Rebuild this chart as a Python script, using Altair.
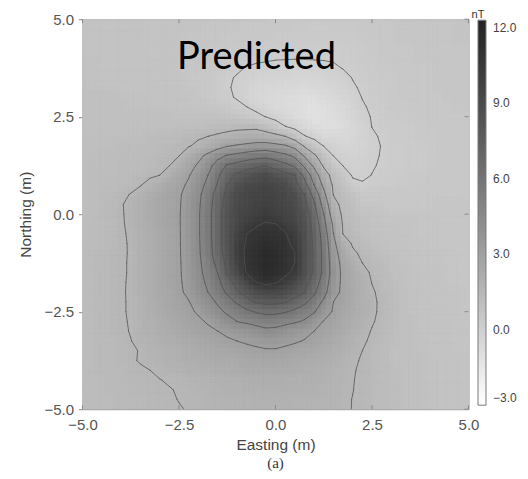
import altair as alt
import numpy as np
import pandas as pd

# ---------------- data ----------------
easting = [-5.0, -4.75, -4.5, -4.25, -4.0, -3.75, -3.5, -3.25, -3.0, -2.75, -2.5, -2.25, -2.0,
           -1.75, -1.5, -1.25, -1.0, -0.75, -0.5, -0.25, 0.0, 0.25, 0.5, 0.75, 1.0, 1.25, 1.5,
           1.75, 2.0, 2.25, 2.5, 2.75, 3.0, 3.25, 3.5, 3.75, 4.0, 4.25, 4.5, 4.75, 5.0]
northing = [5.0, 4.75, 4.5, 4.25, 4.0, 3.75, 3.5, 3.25, 3.0, 2.75, 2.5, 2.25, 2.0,
            1.75, 1.5, 1.25, 1.0, 0.75, 0.5, 0.25, 0.0, -0.25, -0.5, -0.75, -1.0, -1.25, -1.5,
            -1.75, -2.0, -2.25, -2.5, -2.75, -3.0, -3.25, -3.5, -3.75, -4.0, -4.25, -4.5, -4.75, -5.0]

# predicted anomaly (nT), one list per northing row, west -> east
row_p500 = [0.70,0.69,0.68,0.68,0.67,0.66,0.65,0.64,0.63,0.63,0.62,0.61,0.60,0.58,0.56,0.54,0.53,0.51,0.49,0.47,0.45,0.43,0.40,0.38,0.35,0.36,0.38,0.39,0.40,0.42,0.43,0.45,0.47,0.48,0.50,0.52,0.53,0.55,0.57,0.58,0.60]
row_p475 = [0.70,0.69,0.68,0.68,0.67,0.66,0.65,0.64,0.63,0.63,0.62,0.61,0.60,0.57,0.53,0.50,0.47,0.43,0.40,0.38,0.35,0.33,0.30,0.28,0.26,0.25,0.27,0.28,0.30,0.34,0.38,0.41,0.45,0.47,0.49,0.51,0.53,0.54,0.56,0.58,0.60]
row_p450 = [0.75,0.73,0.72,0.70,0.68,0.67,0.65,0.63,0.62,0.60,0.58,0.57,0.55,0.51,0.48,0.44,0.40,0.38,0.35,0.33,0.30,0.25,0.20,0.20,0.20,0.20,0.20,0.23,0.26,0.29,0.34,0.40,0.45,0.47,0.49,0.51,0.53,0.54,0.56,0.58,0.60]
row_p425 = [0.75,0.73,0.72,0.70,0.68,0.67,0.65,0.63,0.62,0.60,0.58,0.57,0.55,0.50,0.45,0.40,0.35,0.31,0.28,0.24,0.20,0.18,0.15,0.13,0.10,0.10,0.10,0.13,0.19,0.24,0.29,0.35,0.40,0.42,0.44,0.46,0.48,0.49,0.51,0.53,0.55]
row_p400 = [0.80,0.78,0.76,0.74,0.72,0.70,0.68,0.66,0.64,0.62,0.60,0.55,0.50,0.45,0.40,0.33,0.25,0.18,0.10,0.08,0.05,0.04,0.03,0.04,0.05,0.05,0.06,0.10,0.16,0.21,0.28,0.34,0.40,0.42,0.44,0.46,0.48,0.49,0.51,0.53,0.55]
row_p375 = [0.80,0.78,0.76,0.74,0.72,0.70,0.68,0.66,0.64,0.62,0.60,0.54,0.48,0.41,0.35,0.21,0.08,-0.03,-0.09,-0.14,-0.20,-0.23,-0.26,-0.30,-0.24,-0.16,-0.08,0.02,0.08,0.15,0.23,0.29,0.35,0.38,0.40,0.43,0.45,0.48,0.50,0.53,0.55]
row_p350 = [0.80,0.78,0.76,0.74,0.72,0.70,0.68,0.66,0.64,0.62,0.60,0.51,0.42,0.33,0.20,0.07,-0.04,-0.15,-0.26,-0.36,-0.38,-0.42,-0.45,-0.49,-0.44,-0.37,-0.30,-0.14,0.02,0.12,0.21,0.28,0.32,0.36,0.40,0.43,0.45,0.48,0.50,0.53,0.55]
row_p325 = [0.85,0.83,0.81,0.79,0.77,0.75,0.73,0.71,0.69,0.67,0.65,0.56,0.47,0.37,0.22,0.06,-0.10,-0.28,-0.45,-0.51,-0.56,-0.62,-0.68,-0.74,-0.66,-0.55,-0.44,-0.27,-0.06,0.07,0.17,0.26,0.30,0.35,0.40,0.43,0.45,0.48,0.50,0.53,0.55]
row_p300 = [0.90,0.88,0.86,0.84,0.82,0.80,0.78,0.76,0.74,0.72,0.70,0.61,0.52,0.42,0.26,0.11,-0.06,-0.29,-0.51,-0.65,-0.72,-0.80,-0.88,-0.95,-0.94,-0.78,-0.63,-0.45,-0.19,0.02,0.13,0.23,0.29,0.35,0.40,0.42,0.43,0.45,0.47,0.48,0.50]
row_p275 = [0.90,0.89,0.87,0.86,0.84,0.83,0.81,0.80,0.78,0.77,0.75,0.69,0.63,0.56,0.50,0.34,0.18,0.01,-0.22,-0.46,-0.70,-0.81,-0.93,-1.04,-1.15,-0.98,-0.81,-0.63,-0.36,-0.06,0.08,0.19,0.27,0.31,0.35,0.38,0.40,0.43,0.45,0.48,0.50]
row_p250 = [0.90,0.89,0.89,0.88,0.87,0.86,0.86,0.85,0.85,0.84,0.83,0.83,0.82,0.81,0.80,0.69,0.59,0.45,0.22,-0.02,-0.28,-0.54,-0.80,-0.97,-1.13,-1.09,-0.91,-0.74,-0.47,-0.18,0.04,0.14,0.25,0.28,0.31,0.34,0.37,0.39,0.41,0.43,0.45]
row_p225 = [0.95,0.94,0.93,0.93,0.92,0.91,0.90,0.92,0.93,0.95,0.97,0.98,1.00,1.06,1.13,1.19,1.25,1.25,1.25,0.97,0.49,0.02,-0.29,-0.60,-0.90,-0.94,-0.98,-0.85,-0.60,-0.31,0.01,0.10,0.20,0.23,0.26,0.30,0.33,0.35,0.39,0.42,0.45]
row_p200 = [1.00,1.00,1.00,1.00,1.00,1.00,1.00,1.05,1.10,1.15,1.20,1.30,1.39,1.49,1.62,1.76,1.90,2.00,2.10,1.95,1.80,1.48,0.78,0.06,-0.30,-0.63,-0.67,-0.63,-0.50,-0.25,-0.07,0.05,0.13,0.21,0.24,0.27,0.30,0.33,0.35,0.38,0.40]
row_p175 = [1.00,1.01,1.02,1.02,1.03,1.04,1.05,1.13,1.21,1.29,1.37,1.45,1.67,2.08,2.50,2.92,3.13,3.30,3.47,3.56,3.35,3.14,2.57,1.36,0.63,-0.03,-0.24,-0.46,-0.42,-0.32,-0.15,0.02,0.10,0.18,0.23,0.26,0.30,0.33,0.35,0.38,0.40]
row_p150 = [1.00,1.02,1.03,1.05,1.07,1.08,1.10,1.20,1.29,1.39,1.48,2.00,2.63,3.30,4.05,4.61,4.90,5.19,5.47,5.62,5.22,4.82,4.22,2.86,1.69,0.80,-0.01,-0.13,-0.25,-0.22,-0.09,0.03,0.11,0.18,0.23,0.26,0.30,0.33,0.35,0.38,0.40]
row_p125 = [1.00,1.03,1.05,1.08,1.10,1.13,1.15,1.26,1.37,1.48,1.96,2.54,3.17,4.00,5.10,6.14,6.50,6.86,7.21,7.40,6.90,6.40,5.70,4.20,2.70,1.34,0.56,-0.03,-0.14,-0.15,-0.04,0.05,0.12,0.19,0.23,0.26,0.30,0.33,0.35,0.38,0.40]
row_p100 = [1.00,1.03,1.05,1.08,1.10,1.20,1.30,1.40,1.50,1.97,2.44,2.91,3.67,4.50,5.75,7.00,7.76,8.21,8.65,8.91,8.44,7.97,7.50,5.63,3.75,2.06,1.09,0.46,-0.08,-0.10,0.01,0.10,0.18,0.26,0.29,0.32,0.35,0.36,0.38,0.39,0.40]
row_p075 = [1.00,1.05,1.10,1.15,1.20,1.33,1.46,1.73,2.06,2.40,2.73,3.16,3.94,4.85,6.11,7.50,8.51,9.09,9.26,9.36,9.18,8.96,7.97,6.53,4.50,2.66,1.33,0.82,0.20,0.06,0.12,0.21,0.25,0.28,0.30,0.33,0.35,0.38,0.40,0.43,0.45]
row_p050 = [1.00,1.07,1.14,1.23,1.37,1.53,1.80,2.07,2.34,2.60,2.87,3.41,4.19,5.25,6.60,7.93,9.00,9.21,9.43,9.56,9.36,9.16,8.75,7.50,5.50,3.38,1.47,1.09,0.71,0.40,0.38,0.37,0.35,0.36,0.38,0.39,0.40,0.41,0.42,0.44,0.45]
row_p025 = [1.00,1.08,1.17,1.29,1.45,1.67,1.91,2.16,2.41,2.65,2.90,3.48,4.28,5.40,6.78,8.09,9.05,9.32,9.59,9.75,9.51,9.28,9.04,7.88,6.21,3.95,1.85,1.22,0.89,0.57,0.49,0.47,0.45,0.45,0.45,0.45,0.45,0.46,0.48,0.49,0.50]
row_p000 = [1.00,1.08,1.17,1.29,1.44,1.65,1.91,2.16,2.41,2.67,2.92,3.54,4.34,5.50,6.90,8.25,9.13,9.45,9.78,10.10,9.78,9.47,9.15,8.25,6.68,4.50,2.25,1.31,1.03,0.76,0.66,0.59,0.55,0.54,0.53,0.51,0.50,0.50,0.50,0.50,0.50]
row_m025 = [1.05,1.13,1.22,1.32,1.44,1.61,1.88,2.14,2.40,2.66,2.92,3.54,4.34,5.50,6.90,8.28,9.25,9.82,10.39,10.58,10.52,10.01,9.39,8.48,6.95,4.97,2.75,1.40,1.15,0.90,0.73,0.66,0.60,0.59,0.58,0.56,0.55,0.54,0.53,0.51,0.50]
row_m050 = [1.05,1.13,1.22,1.32,1.42,1.58,1.84,2.11,2.38,2.65,2.91,3.54,4.34,5.50,6.90,8.30,9.49,10.50,10.73,10.95,10.82,10.59,9.86,8.70,7.16,5.33,3.00,1.47,1.25,1.02,0.80,0.73,0.66,0.60,0.58,0.57,0.55,0.54,0.53,0.51,0.50]
row_m075 = [1.05,1.13,1.22,1.31,1.42,1.55,1.83,2.10,2.37,2.64,2.91,3.53,4.31,5.45,6.84,8.28,9.67,10.64,10.98,11.33,11.12,10.78,10.21,8.76,7.24,5.53,3.30,2.06,1.39,1.17,0.94,0.81,0.74,0.66,0.62,0.59,0.55,0.54,0.53,0.51,0.50]
row_m100 = [1.10,1.18,1.27,1.36,1.43,1.54,1.82,2.09,2.36,2.63,2.90,3.50,4.28,5.40,6.75,8.19,9.79,10.74,11.13,11.52,11.29,10.89,10.50,8.82,7.30,5.63,3.50,2.40,1.65,1.34,1.14,0.94,0.83,0.74,0.65,0.63,0.60,0.58,0.55,0.53,0.50]
row_m125 = [1.10,1.18,1.27,1.35,1.43,1.55,1.82,2.09,2.36,2.63,2.89,3.45,4.20,5.18,6.44,7.94,9.53,10.74,11.18,11.61,11.36,10.93,10.50,8.77,7.30,5.64,3.71,2.62,2.06,1.50,1.30,1.10,0.90,0.81,0.72,0.64,0.62,0.59,0.56,0.53,0.50]
row_m150 = [1.10,1.18,1.27,1.35,1.43,1.55,1.82,2.09,2.35,2.62,2.88,3.40,4.13,4.99,6.00,7.66,9.00,10.58,11.00,11.42,11.19,10.81,10.20,8.72,7.30,5.66,3.83,2.71,2.23,1.75,1.40,1.19,0.98,0.85,0.76,0.67,0.62,0.59,0.56,0.53,0.50]
row_m175 = [1.10,1.18,1.27,1.35,1.44,1.56,1.82,2.08,2.34,2.60,2.86,3.33,4.01,4.75,5.64,6.80,8.06,9.25,10.50,10.83,10.63,10.00,9.17,8.06,6.75,5.31,3.68,2.73,2.31,1.89,1.48,1.28,1.07,0.88,0.79,0.70,0.64,0.60,0.57,0.53,0.50]
row_m200 = [1.10,1.18,1.27,1.35,1.44,1.57,1.82,2.07,2.33,2.58,2.83,3.21,3.85,4.50,5.33,6.21,7.29,8.10,8.85,9.27,9.23,8.86,8.18,7.50,6.25,5.00,3.48,2.72,2.34,1.96,1.58,1.34,1.14,0.94,0.83,0.74,0.65,0.63,0.60,0.58,0.55]
row_m225 = [1.10,1.18,1.27,1.35,1.44,1.56,1.80,2.03,2.26,2.49,2.72,2.95,3.46,4.04,4.65,5.40,6.17,7.00,7.61,7.89,7.85,7.60,7.05,6.30,5.36,4.25,3.00,2.66,2.32,1.98,1.64,1.37,1.16,0.94,0.83,0.74,0.65,0.63,0.60,0.58,0.55]
row_m250 = [1.10,1.18,1.27,1.35,1.44,1.56,1.77,1.98,2.19,2.41,2.62,2.83,3.11,3.64,4.18,4.70,5.20,5.70,6.11,6.39,6.35,6.10,5.68,5.14,4.61,3.64,2.88,2.56,2.25,1.94,1.63,1.37,1.16,0.94,0.83,0.74,0.65,0.63,0.60,0.58,0.55]
row_m275 = [1.10,1.18,1.27,1.35,1.43,1.54,1.73,1.91,2.10,2.29,2.48,2.66,2.85,3.09,3.56,4.03,4.50,4.71,4.91,5.12,5.08,4.87,4.66,4.35,3.60,2.94,2.67,2.39,2.11,1.83,1.56,1.34,1.14,0.94,0.84,0.77,0.70,0.68,0.65,0.63,0.60]
row_m300 = [1.10,1.18,1.27,1.35,1.43,1.52,1.68,1.85,2.01,2.17,2.33,2.50,2.66,2.82,2.99,3.22,3.47,3.71,3.96,4.20,4.13,3.85,3.57,3.28,3.00,2.74,2.48,2.22,1.97,1.71,1.46,1.28,1.10,0.93,0.86,0.78,0.70,0.68,0.65,0.63,0.60]
row_m325 = [1.10,1.18,1.27,1.34,1.39,1.49,1.61,1.75,1.89,2.03,2.17,2.31,2.44,2.58,2.72,2.86,3.00,3.15,3.29,3.44,3.41,3.26,3.12,2.95,2.73,2.50,2.27,2.05,1.82,1.59,1.40,1.23,1.07,0.96,0.89,0.82,0.75,0.71,0.68,0.64,0.60]
row_m350 = [1.10,1.17,1.24,1.31,1.38,1.45,1.52,1.64,1.75,1.86,1.97,2.09,2.20,2.30,2.40,2.50,2.59,2.69,2.79,2.89,2.90,2.78,2.65,2.53,2.40,2.26,2.07,1.88,1.69,1.50,1.33,1.17,1.00,0.94,0.88,0.81,0.75,0.71,0.68,0.64,0.60]
row_m375 = [1.10,1.17,1.24,1.31,1.38,1.45,1.53,1.63,1.72,1.82,1.91,2.01,2.10,2.17,2.23,2.30,2.36,2.43,2.49,2.56,2.56,2.47,2.37,2.27,2.18,2.07,1.91,1.75,1.60,1.44,1.29,1.15,1.00,0.95,0.90,0.85,0.80,0.76,0.73,0.69,0.65]
row_m400 = [1.10,1.16,1.23,1.29,1.34,1.39,1.45,1.50,1.58,1.66,1.74,1.82,1.90,1.96,2.02,2.08,2.14,2.20,2.26,2.31,2.32,2.24,2.16,2.09,2.01,1.92,1.80,1.67,1.54,1.42,1.29,1.17,1.05,0.99,0.93,0.86,0.80,0.76,0.73,0.69,0.65]
row_m425 = [1.10,1.15,1.20,1.25,1.30,1.35,1.39,1.44,1.49,1.54,1.60,1.67,1.73,1.79,1.85,1.89,1.93,1.97,2.03,2.07,2.08,2.04,1.99,1.94,1.89,1.83,1.73,1.62,1.52,1.41,1.29,1.17,1.05,0.99,0.93,0.86,0.80,0.76,0.73,0.69,0.65]
row_m450 = [1.10,1.14,1.18,1.23,1.27,1.31,1.35,1.40,1.44,1.48,1.53,1.59,1.64,1.70,1.76,1.81,1.84,1.87,1.90,1.93,1.94,1.91,1.88,1.85,1.82,1.78,1.70,1.60,1.51,1.40,1.28,1.17,1.05,0.99,0.93,0.86,0.80,0.76,0.73,0.69,0.65]
row_m475 = [1.10,1.14,1.18,1.22,1.25,1.29,1.33,1.38,1.42,1.46,1.51,1.55,1.60,1.64,1.69,1.74,1.77,1.79,1.81,1.84,1.84,1.82,1.80,1.78,1.77,1.73,1.66,1.58,1.49,1.39,1.28,1.16,1.05,0.99,0.93,0.86,0.80,0.76,0.73,0.69,0.65]
row_m500 = [1.10,1.14,1.17,1.21,1.24,1.28,1.32,1.36,1.40,1.44,1.48,1.52,1.56,1.61,1.65,1.69,1.72,1.74,1.76,1.79,1.79,1.78,1.76,1.74,1.73,1.69,1.62,1.56,1.49,1.38,1.27,1.16,1.05,0.99,0.93,0.86,0.80,0.76,0.73,0.69,0.65]

field_rows = [row_p500, row_p475, row_p450, row_p425, row_p400, row_p375, row_p350, row_p325,
              row_p300, row_p275, row_p250, row_p225, row_p200, row_p175, row_p150, row_p125,
              row_p100, row_p075, row_p050, row_p025, row_p000, row_m025, row_m050, row_m075,
              row_m100, row_m125, row_m150, row_m175, row_m200, row_m225, row_m250, row_m275,
              row_m300, row_m325, row_m350, row_m375, row_m400, row_m425, row_m450, row_m475,
              row_m500]

contour_levels = [0.0, 1.5, 3.0, 4.5, 6.0, 7.5, 9.0, 10.5]
colorbar_range = [-3.0, 12.3]
colorbar_ticks = [-3.0, 0.0, 3.0, 6.0, 9.0, 12.0]
axis_ticks = [-5.0, -2.5, 0.0, 2.5, 5.0]
axis_range = [-5.0, 5.0]
panel_label = ["Predicted"]

# ---------------- build tables ----------------
for k, r in enumerate(field_rows):
    if len(r) != len(easting):
        raise ValueError(f"row {k} has {len(r)} values")
Z = np.array(field_rows, dtype=float)

half_e = (easting[1] - easting[0]) / 2.0
half_n = (northing[0] - northing[1]) / 2.0


def cell_table(de, dn, grow):
    """Each grid value drawn as one cell; the four copies are shifted by a quarter cell
    and blended with opacity, which only softens the cell edges on screen."""
    rows = []
    for j, n in enumerate(northing):
        for i, e in enumerate(easting):
            rows.append({"e0": e - half_e + de - grow, "e1": e + half_e + de + grow,
                         "n0": n - half_n + dn - grow, "n1": n + half_n + dn + grow,
                         "v": Z[j, i]})
    return pd.DataFrame(rows)


def contour_segments(xs, ys, Zg, level):
    segs = []
    ny, nx = Zg.shape
    for j in range(ny - 1):
        for i in range(nx - 1):
            corners = [(xs[i], ys[j], Zg[j, i]), (xs[i + 1], ys[j], Zg[j, i + 1]),
                       (xs[i + 1], ys[j + 1], Zg[j + 1, i + 1]), (xs[i], ys[j + 1], Zg[j + 1, i])]
            cross = []
            for k in range(4):
                x0, y0, v0 = corners[k]
                x1, y1, v1 = corners[(k + 1) % 4]
                if (v0 > level) != (v1 > level):
                    t = (level - v0) / (v1 - v0)
                    cross.append((x0 + t * (x1 - x0), y0 + t * (y1 - y0)))
            if len(cross) == 2:
                segs.append((cross[0], cross[1]))
            elif len(cross) == 4:
                centre = sum(c[2] for c in corners) / 4.0
                if (centre > level) == (corners[0][2] > level):
                    segs.append((cross[0], cross[1]))
                    segs.append((cross[2], cross[3]))
                else:
                    segs.append((cross[3], cross[0]))
                    segs.append((cross[1], cross[2]))
    return [{"x": a[0], "y": a[1], "x2": b[0], "y2": b[1], "level": level} for a, b in segs]


seg_rows = []
for lv in contour_levels:
    seg_rows += contour_segments(easting, northing, Z, lv)
seg_df = pd.DataFrame(seg_rows)

tick_df = pd.DataFrame({"t": axis_ticks})
label_df = pd.DataFrame({"label": panel_label})

# ---------------- chart ----------------
W, H = 386, 390
xscale = alt.Scale(domain=axis_range, nice=False, zero=False)
yscale = alt.Scale(domain=axis_range, nice=False, zero=False)
cscale = alt.Scale(domain=colorbar_range, range=["#ffffff", "#222222"])
lab_font = "Liberation Sans"

x_axis = alt.Axis(values=axis_ticks, format=".1f", ticks=False, tickSize=0, labelPadding=8,
                  labelFlush=False, titlePadding=5)
y_axis = alt.Axis(values=axis_ticks, format=".1f", ticks=True, tickSize=4, labelPadding=5,
                  labelFlush=False, titlePadding=10)
legend = alt.Legend(type="gradient", title="nT", orient="none", legendX=389.5, legendY=-10,
                    direction="vertical", gradientLength=385, gradientThickness=8,
                    gradientStrokeColor="#7a7a7a", gradientStrokeWidth=1,
                    values=colorbar_ticks, format=".1f", labelFontSize=12,
                    labelColor="#444444", labelFont=lab_font, labelOffset=7,
                    labelOverlap=False, titleFontSize=11, titleFont=lab_font,
                    titleFontWeight="normal", titleColor="#333333", titlePadding=0,
                    titleAnchor="start", titleAlign="center", padding=0)

XT, YT = "Easting (m)", "Northing (m)"


def raster_layer(de, dn, opacity, grow):
    return alt.Chart(cell_table(de, dn, grow)).mark_rect(
        clip=True, strokeWidth=0, opacity=opacity
    ).encode(
        x=alt.X("e0:Q", scale=xscale, axis=x_axis, title=XT),
        x2="e1:Q",
        y=alt.Y("n0:Q", scale=yscale, axis=y_axis, title=YT),
        y2="n1:Q",
        fill=alt.Fill("v:Q", scale=cscale, legend=legend),
    )


q = half_e / 2.0
rasters = [
    raster_layer(-q, -q, 1.0, 0.008),
    raster_layer(q, -q, 1.0 / 2.0, 0.0),
    raster_layer(-q, q, 1.0 / 3.0, 0.0),
    raster_layer(q, q, 1.0 / 4.0, 0.0),
]

contours = alt.Chart(seg_df).mark_rule(color="#505050", strokeWidth=0.75, strokeCap="round",
                                       clip=True).encode(
    x=alt.X("x:Q", scale=xscale, axis=x_axis, title=XT),
    y=alt.Y("y:Q", scale=yscale, axis=y_axis, title=YT),
    x2="x2:Q",
    y2="y2:Q",
)

top_ticks = alt.Chart(tick_df).mark_rule(color="#8a8a8a", strokeWidth=1).encode(
    x=alt.X("t:Q", scale=xscale, axis=x_axis, title=XT), y=alt.value(0), y2=alt.value(4))
bottom_ticks = alt.Chart(tick_df).mark_rule(color="#8a8a8a", strokeWidth=1).encode(
    x=alt.X("t:Q", scale=xscale, axis=x_axis, title=XT), y=alt.value(H), y2=alt.value(H - 4))
right_ticks = alt.Chart(tick_df).mark_rule(color="#8a8a8a", strokeWidth=1).encode(
    y=alt.Y("t:Q", scale=yscale, axis=y_axis, title=YT), x=alt.value(W), x2=alt.value(W - 4))

label = alt.Chart(label_df).mark_text(font="Lato", fontSize=38, color="#000000",
                                      align="left", baseline="alphabetic").encode(
    text="label:N", x=alt.value(94.5), y=alt.value(50))

chart = alt.layer(*rasters, contours, top_ticks, bottom_ticks, right_ticks, label).properties(
    width=W, height=H,
    title=alt.TitleParams("(a)", orient="bottom", font="Liberation Serif", fontSize=15,
                          fontWeight="normal", color="#333333", offset=3, anchor="middle"),
    padding={"left": 74.5, "top": 11.2, "right": 50, "bottom": 61.5},
    autosize=alt.AutoSizeParams(type="none"),
).configure_view(
    stroke="#8a8a8a", strokeWidth=1
).configure_axis(
    domain=False, grid=False, tickColor="#888888",
    labelFont=lab_font, labelFontSize=15, labelColor="#555555",
    titleFont=lab_font, titleFontSize=15.5, titleFontWeight="normal", titleColor="#444444",
)

chart.save("out.html", embed_options={"renderer": "svg", "actions": False})
